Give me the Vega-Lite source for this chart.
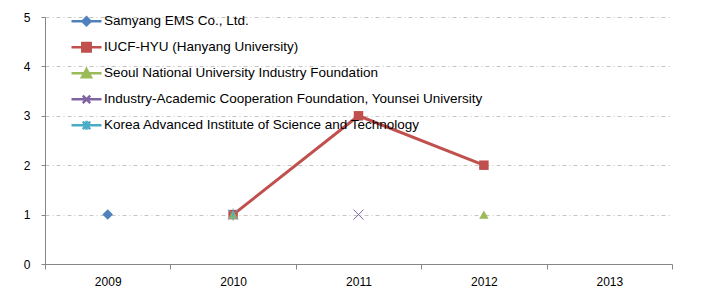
{
  "$schema": "https://vega.github.io/schema/vega-lite/v6.json",
  "width": 627,
  "height": 247,
  "autosize": "none",
  "padding": {"left": 45, "top": 17, "right": 33, "bottom": 37},
  "background": "white",
  "config": {"view": {"stroke": null}, "font": "Liberation Sans"},
  "data": {
    "values": [
      {"series": "Samyang EMS Co., Ltd.", "year": "2009", "value": 1},
      {"series": "IUCF-HYU (Hanyang University)", "year": "2010", "value": 1},
      {"series": "IUCF-HYU (Hanyang University)", "year": "2011", "value": 3},
      {"series": "IUCF-HYU (Hanyang University)", "year": "2012", "value": 2},
      {"series": "Seoul National University Industry Foundation", "year": "2010", "value": 1},
      {"series": "Seoul National University Industry Foundation", "year": "2012", "value": 1},
      {"series": "Industry-Academic Cooperation Foundation, Younsei University", "year": "2011", "value": 1},
      {"series": "Korea Advanced Institute of Science and Technology", "year": "2010", "value": 1}
    ]
  },
  "encoding": {
    "x": {
      "field": "year",
      "type": "ordinal",
      "scale": {"domain": ["2009", "2010", "2011", "2012", "2013"], "paddingInner": 0, "paddingOuter": 0},
      "axis": {
        "title": null,
        "labelAngle": 0,
        "tickBand": "extent",
        "domainColor": "#868686",
        "tickColor": "#868686",
        "tickSize": 5,
        "labelFontSize": 12,
        "labelColor": "#000000",
        "labelPadding": 7,
        "grid": false
      }
    },
    "y": {
      "field": "value",
      "type": "quantitative",
      "scale": {"domain": [0, 5], "nice": false},
      "axis": {
        "title": null,
        "values": [0, 1, 2, 3, 4, 5],
        "grid": true,
        "gridColor": "#C4C4C4",
        "gridDash": [4, 3, 1, 3],
        "gridWidth": 1,
        "domainColor": "#868686",
        "tickColor": "#868686",
        "tickSize": 4,
        "labelFontSize": 12,
        "labelColor": "#000000",
        "labelPadding": 11
      }
    }
  },
  "layer": [
    {
      "transform": [{"filter": "datum.series === 'IUCF-HYU (Hanyang University)'"}],
      "mark": {"type": "line", "strokeWidth": 3},
      "encoding": {
        "stroke": {
          "field": "series",
          "type": "nominal",
          "scale": {
            "domain": ["Samyang EMS Co., Ltd.", "IUCF-HYU (Hanyang University)", "Seoul National University Industry Foundation", "Industry-Academic Cooperation Foundation, Younsei University", "Korea Advanced Institute of Science and Technology"],
            "range": ["#4F81BD", "#C0504D", "#9BBB59", "#8064A2", "#4BACC6"]
          },
          "legend": {
            "orient": "none",
            "legendX": 25,
            "legendY": -8.5,
            "title": null,
            "padding": 0,
            "symbolSize": 900,
            "clipHeight": 25.6,
            "rowPadding": 0,
            "labelOffset": 1,
            "labelFontSize": 13.5,
            "labelColor": "#000000",
            "labelFont": "Liberation Sans",
            "labelLimit": 500,
            "symbolStrokeWidth": 2.5,
            "encode": {
              "symbols": {
                "update": {
                  "shape": {"signal": "['M-1,0H1M-0.27,0L0,-0.27L0.27,0L0,0.27Z','M-1,0H1M-0.28,-0.28H0.28V0.28H-0.28Z','M-1,0H1M0,-0.28L0.3,0.26H-0.3Z','M-1,0H1M-0.25,-0.25L0.25,0.25M-0.25,0.25L0.25,-0.25','M-1,0H1M-0.25,-0.25L0.25,0.25M-0.25,0.25L0.25,-0.25M0,-0.3V0.3'][datum.index]"},
                  "fill": {"scale": "stroke", "field": "value"},
                  "stroke": {"scale": "stroke", "field": "value"},
                  "opacity": {"value": 1},
                  "strokeWidth": {"value": 2.5}
                }
              }
            }
          }
        }
      }
    },
    {
      "transform": [{"filter": "datum.series === 'Samyang EMS Co., Ltd.'"}],
      "mark": {"type": "point", "shape": "diamond", "filled": true, "color": "#4F81BD", "opacity": 1, "size": 110}
    },
    {
      "transform": [{"filter": "datum.series === 'IUCF-HYU (Hanyang University)'"}],
      "mark": {"type": "point", "shape": "square", "filled": true, "color": "#C0504D", "opacity": 1, "size": 90}
    },
    {
      "transform": [{"filter": "datum.series === 'Seoul National University Industry Foundation'"}],
      "mark": {"type": "point", "shape": "triangle-up", "filled": true, "color": "#9BBB59", "opacity": 1, "size": 90}
    },
    {
      "transform": [{"filter": "datum.series === 'Industry-Academic Cooperation Foundation, Younsei University'"}],
      "mark": {"type": "point", "shape": "M-1,-1L1,1M-1,1L1,-1", "filled": false, "color": "#8064A2", "opacity": 1, "size": 100, "strokeWidth": 1}
    },
    {
      "transform": [{"filter": "datum.series === 'Korea Advanced Institute of Science and Technology'"}],
      "mark": {"type": "point", "shape": "M-1,-1L1,1M-1,1L1,-1M0,-1.2V1.2", "filled": false, "color": "#4BACC6", "opacity": 1, "size": 100, "strokeWidth": 1}
    }
  ]
}
